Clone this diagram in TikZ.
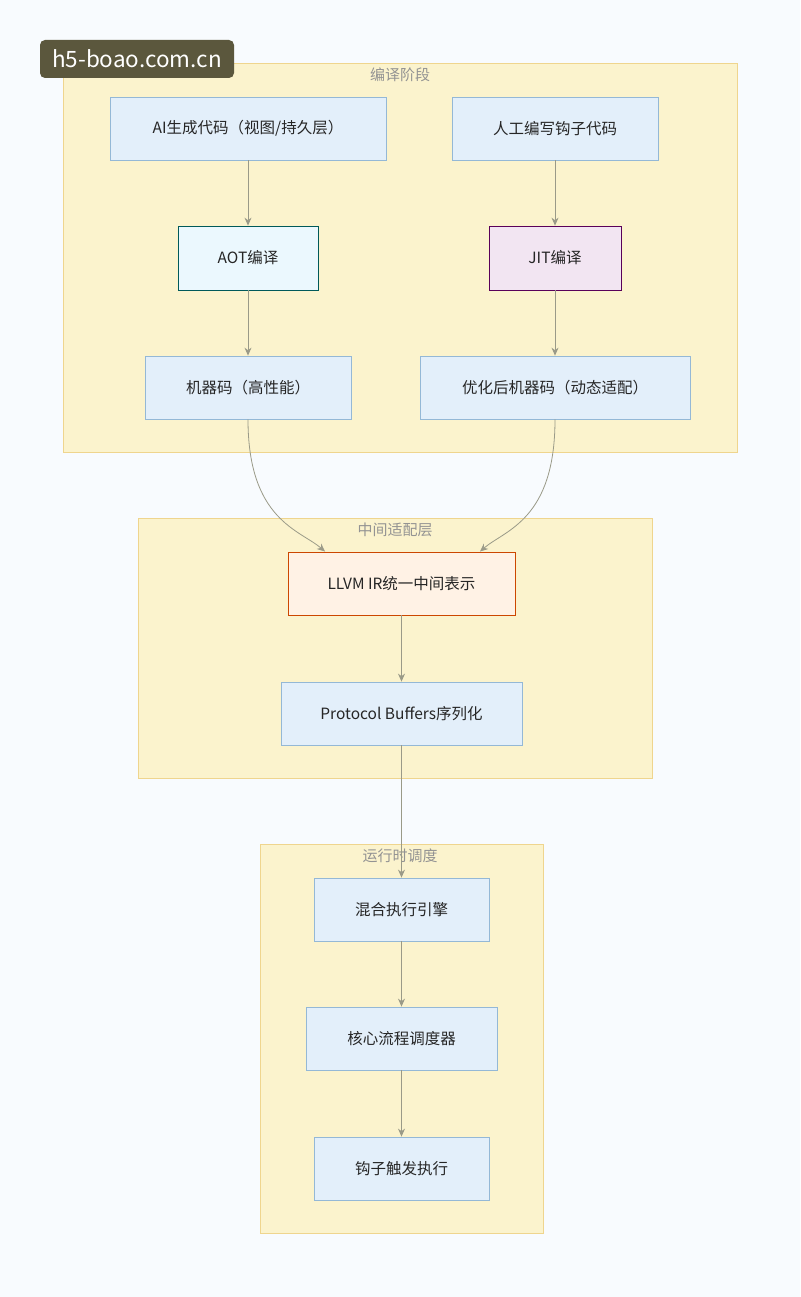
\documentclass[tikz,border=0pt]{standalone}
\usepackage{fontspec}
\setmainfont{Noto Sans CJK SC}
\usetikzlibrary{arrows.meta}
\definecolor{bg}{HTML}{F8FBFE}
\definecolor{clf}{HTML}{FBF3CD}
\definecolor{cld}{HTML}{EFD58E}
\definecolor{bxf}{HTML}{E3EFFA}
\definecolor{bxd}{HTML}{94B8D6}
\definecolor{edge}{HTML}{9A9A88}
\tikzset{x=1pt,y=-1pt,
 cl/.style={fill=clf,draw=cld,line width=0.8pt},
 cltitle/.style={text=gray!85,font=\fontsize{15}{17}\selectfont},
 bx/.style={draw=bxd,fill=bxf,line width=0.8pt},
 lab/.style={font=\fontsize{15.5}{18}\selectfont,text=black!85},
 ed/.style={draw=edge,line width=0.8pt,-{Stealth[length=8pt,width=7pt]}}}
\begin{document}
\begin{tikzpicture}
\fill[bg] (0,0) rectangle (800,1297);
\useasboundingbox (0,0) rectangle (800,1297);
\path[cl] (63,63) rectangle (737,452);
\node[cltitle] at (400,75) {编译阶段};
\path[cl] (138,518) rectangle (652,778);
\node[cltitle] at (395,530) {中间适配层};
\path[cl] (260,844) rectangle (543,1233);
\node[cltitle] at (400,856) {运行时调度};
\node[bx,lab,minimum width=276,minimum height=63] (ai) at (248,128.5) {AI生成代码（视图/持久层）};
\node[bx,lab,minimum width=206,minimum height=63] (man) at (555,128.5) {人工编写钩子代码};
\node[draw=teal!70!black,fill=cyan!8,line width=0.8pt,lab,minimum width=140,minimum height=64] (aot) at (248,258) {AOT编译};
\node[draw=violet!70!black,fill=violet!10,line width=0.8pt,lab,minimum width=132,minimum height=64] (jit) at (555,258) {JIT编译};
\node[bx,lab,minimum width=206,minimum height=63] (mc) at (248,387.5) {机器码（高性能）};
\node[bx,lab,minimum width=270,minimum height=63] (omc) at (555,387.5) {优化后机器码（动态适配）};
\node[draw=orange!70!red!80!black,fill=orange!10,line width=0.8pt,lab,minimum width=227,minimum height=63] (llvm) at (401.5,583.5) {LLVM IR统一中间表示};
\node[bx,lab,minimum width=241,minimum height=63] (pb) at (401.5,713.5) {Protocol Buffers序列化};
\node[bx,lab,minimum width=175,minimum height=63] (mix) at (401.5,909.5) {混合执行引擎};
\node[bx,lab,minimum width=191,minimum height=63] (core) at (401.5,1038.5) {核心流程调度器};
\node[bx,lab,minimum width=175,minimum height=63] (hook) at (401.5,1168.5) {钩子触发执行};
\draw[ed] (ai) -- (aot);
\draw[ed] (aot) -- (mc);
\draw[ed] (man) -- (jit);
\draw[ed] (jit) -- (omc);
\draw[ed] (mc.south) .. controls (248,520) and (300,530) .. (325,551.5);
\draw[ed] (omc.south) .. controls (555,520) and (505,530) .. (480,551.5);
\draw[ed] (llvm) -- (pb);
\draw[ed] (pb) -- (mix);
\draw[ed] (mix) -- (core);
\draw[ed] (core) -- (hook);
\node[fill=black!60!olive!80!gray,rounded corners=5pt,text=white,font=\fontsize{22.5}{25}\selectfont,minimum width=194,minimum height=38] (wm) at (137,59) {h5-boao.com.cn};
\end{tikzpicture}
\end{document}
